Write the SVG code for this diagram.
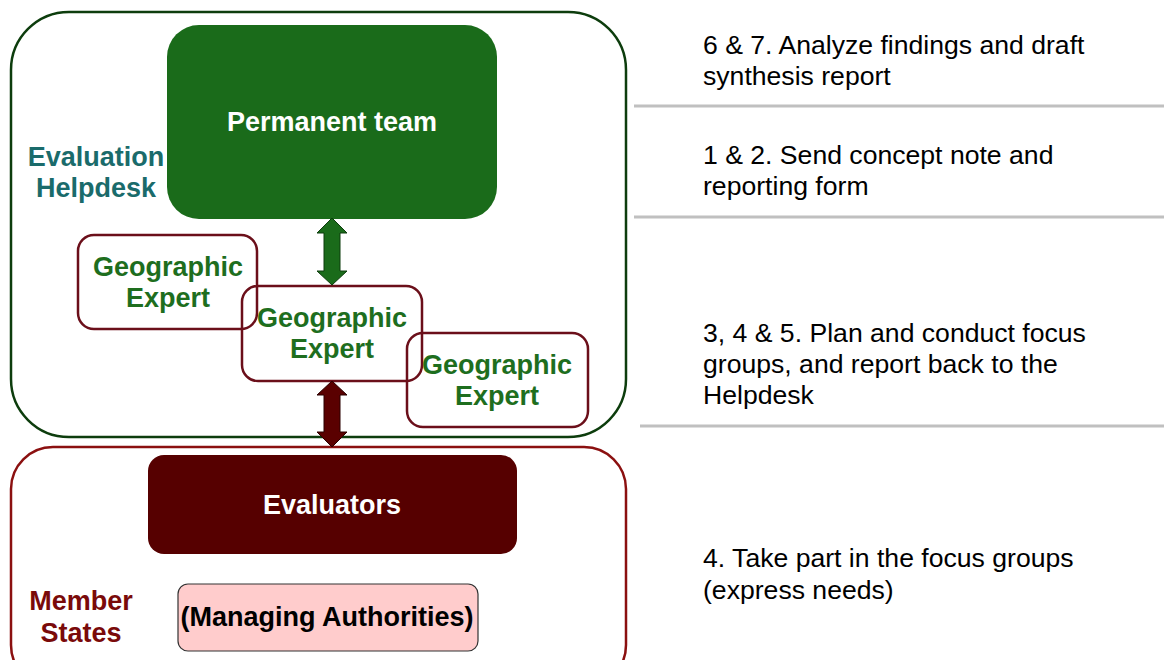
<svg xmlns="http://www.w3.org/2000/svg" width="1164" height="660" viewBox="0 0 1164 660">
<style>
.b{font-family:"Liberation Sans",Arial,sans-serif;font-weight:bold;text-anchor:middle;font-size:27px}
.r{font-family:"Liberation Sans",Arial,sans-serif;font-size:26.6px;fill:#000}
.geo{fill:none;stroke:#6b0f1a;stroke-width:2.5}
.gt{fill:#1e6e1e}
.sep{stroke:#c0c0c0;stroke-width:3}
</style>
<rect width="1164" height="660" fill="#fff"/>
<g id="evaluation-helpdesk">
<rect x="11" y="12" width="615" height="425" rx="58" fill="none" stroke="#0d3d0d" stroke-width="2.5"/>
<text class="b" x="96" y="166" fill="#1a6b6b">Evaluation</text>
<text class="b" x="96" y="197" fill="#1a6b6b">Helpdesk</text>
</g>
<g id="permanent-team">
<rect x="167" y="25" width="330" height="194" rx="32" fill="#1a6b1a"/>
<text class="b" x="332" y="131" fill="#fff">Permanent team</text>
</g>
<g id="geo1">
<rect class="geo" x="78" y="235" width="179" height="94" rx="16"/>
<text class="b gt" x="168" y="276">Geographic</text>
<text class="b gt" x="168" y="307">Expert</text>
</g>
<g id="geo2">
<rect class="geo" x="242" y="286" width="180" height="95" rx="16"/>
<text class="b gt" x="332" y="327">Geographic</text>
<text class="b gt" x="332" y="358">Expert</text>
</g>
<g id="geo3">
<rect class="geo" x="407" y="333" width="181" height="94" rx="16"/>
<text class="b gt" x="497" y="374">Geographic</text>
<text class="b gt" x="497" y="405">Expert</text>
</g>
<g id="member-states">
<rect x="11" y="447" width="615" height="240" rx="42" fill="none" stroke="#8b1010" stroke-width="2.5"/>
<text class="b" x="81" y="610" fill="#7a0a0a">Member</text>
<text class="b" x="81" y="642" fill="#7a0a0a">States</text>
</g>
<g id="evaluators">
<rect x="148" y="455" width="369" height="99" rx="16" fill="#560000"/>
<text class="b" x="332" y="514" fill="#fff">Evaluators</text>
</g>
<g id="managing-authorities">
<rect x="178" y="584" width="300" height="67" rx="10" fill="#ffcccc" stroke="#333" stroke-width="1.2"/>
<text class="b" x="327" y="626" fill="#000">(Managing Authorities)</text>
</g>
<g id="connectors">
<polygon points="332,218 347,233 340,233 340,271 347,271 332,285 317,271 324,271 324,233 317,233" fill="#1a6b1a" stroke="#0d3d0d" stroke-width="1"/>
<polygon points="332,381 347,395 340,395 340,432 347,432 332,447 317,432 324,432 324,395 317,395" fill="#5a0000" stroke="#2a0000" stroke-width="1"/>
</g>
<g id="steps">
<line class="sep" x1="634" y1="106" x2="1164" y2="106"/>
<line class="sep" x1="634" y1="217" x2="1164" y2="217"/>
<line class="sep" x1="640" y1="426" x2="1164" y2="426"/>
<text class="r" x="703" y="54">6 &amp; 7. Analyze findings and draft</text>
<text class="r" x="703" y="85">synthesis report</text>
<text class="r" x="703" y="164">1 &amp; 2. Send concept note and</text>
<text class="r" x="703" y="195">reporting form</text>
<text class="r" x="703" y="342">3, 4 &amp; 5. Plan and conduct focus</text>
<text class="r" x="703" y="373">groups, and report back to the</text>
<text class="r" x="703" y="404">Helpdesk</text>
<text class="r" x="703" y="567">4. Take part in the focus groups</text>
<text class="r" x="703" y="599">(express needs)</text>
</g>
</svg>
